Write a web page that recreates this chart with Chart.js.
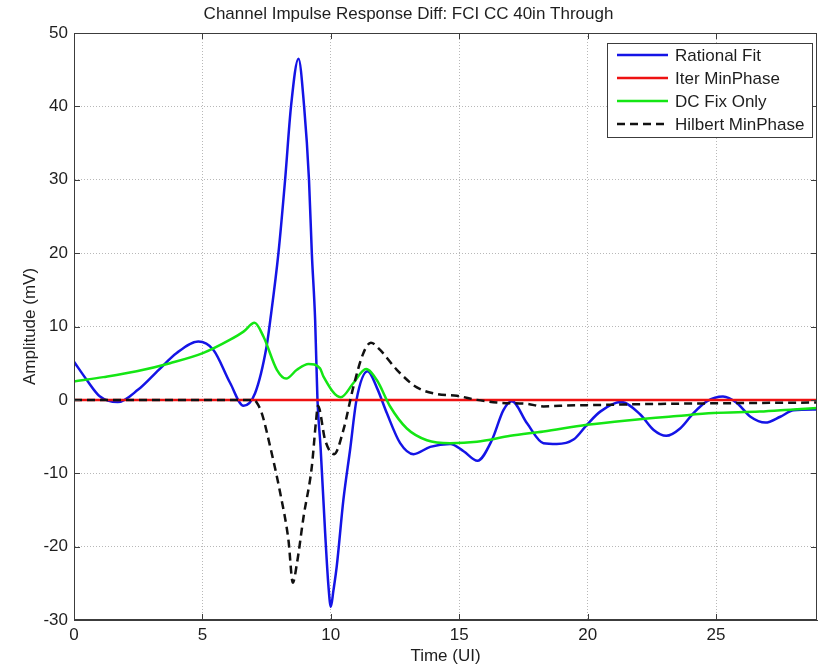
<!DOCTYPE html>
<html><head><meta charset="utf-8">
<script src="https://cdn.jsdelivr.net/npm/chart.js@4"></script>
<style>html,body{margin:0;padding:0;background:#fff}#wrap{width:821px;height:667px}</style>
</head><body><div id="wrap"><canvas id="c" width="821" height="667"></canvas></div>
<script>
const titleText = 'Channel Impulse Response Diff: FCI CC 40in Through';
const xLabel = 'Time (UI)';
const yLabel = 'Amplitude (mV)';
const xTicks = [0, 5, 10, 15, 20, 25];
const yTicks = [-30, -20, -10, 0, 10, 20, 30, 40, 50];
const seriesNames = ['Rational Fit', 'Iter MinPhase', 'DC Fix Only', 'Hilbert MinPhase'];

const rationalX = [0, 0.5, 1.0, 1.7, 2.5, 3.3, 4.0, 4.84, 5.43, 6.08, 6.6, 7.05, 7.5, 7.64, 7.96, 8.22, 8.45, 8.74, 8.96, 9.15, 9.26, 9.39, 9.48, 9.6, 9.78, 9.91, 10.0, 10.1, 10.23, 10.49, 10.75, 11.0, 11.43, 11.8, 12.18, 12.7, 13.22, 13.87, 14.65, 15.17, 15.71, 16.27, 16.72, 17.05, 17.64, 18.28, 18.8, 19.45, 19.97, 20.49, 21.3, 22.05, 22.57, 23.06, 23.6, 24.12, 24.64, 25.27, 25.82, 26.34, 26.92, 27.5, 28.02, 28.93];
const rationalY = [5.2, 2.7, 0.5, -0.3, 1.4, 4.1, 6.4, 7.95, 6.8, 2.3, -0.8, 0.9, 7.3, 10.8, 20, 30, 40, 46.5, 40, 30, 20, 10.8, 0, -6.4, -18.2, -25.5, -28.2, -26, -22.7, -13.6, -6.8, 0, 3.9, 1.6, -1.8, -5.9, -7.4, -6.4, -6.0, -7.0, -8.3, -5.5, -1.4, -0.2, -3.2, -5.9, -6.0, -5.4, -3.4, -1.6, -0.3, -2.0, -4.1, -4.9, -3.9, -1.8, -0.2, 0.45, -0.45, -2.3, -3.1, -2.3, -1.4, -1.3];

const iterX = [0, 28.93];
const iterY = [0, 0];

const dcFixX = [0, 1.14, 2.44, 3.74, 5.04, 6.08, 6.6, 7.03, 7.38, 7.9, 8.26, 8.68, 9.13, 9.58, 9.71, 10.39, 10.88, 11.37, 11.79, 12.31, 12.96, 13.74, 14.65, 15.69, 16.99, 18.28, 19.97, 21.53, 23.48, 24.9, 26.7, 28.0, 28.93];
const dcFixY = [2.5, 3.1, 3.9, 5.0, 6.4, 8.2, 9.3, 10.5, 8.6, 4.1, 2.9, 4.1, 4.9, 4.3, 3.2, 0.36, 2.3, 4.2, 2.7, -0.9, -3.9, -5.5, -5.9, -5.7, -4.9, -4.3, -3.4, -2.8, -2.2, -1.8, -1.6, -1.3, -1.1];

const hilbertX = [0, 7.0, 7.1, 7.31, 7.64, 8.03, 8.35, 8.52, 8.68, 8.94, 9.26, 9.42, 9.5, 9.78, 10.13, 10.49, 10.88, 11.27, 11.56, 11.92, 12.57, 13.35, 14.13, 14.91, 15.69, 16.47, 17.64, 18.28, 18.93, 20.25, 22.8, 25.4, 28.93];
const hilbertY = [0, 0, -0.3, -1.8, -6.4, -12.7, -19.1, -24.9, -22.3, -15.9, -9.1, -3.0, -0.8, -5.5, -7.4, -4.1, 1.8, 6.4, 7.8, 6.8, 4.1, 1.7, 0.8, 0.55, 0, -0.36, -0.55, -0.9, -0.8, -0.7, -0.55, -0.45, -0.36];

const pts = (xs, ys) => xs.map((x, i) => ({x: x, y: ys[i]}));

Chart.defaults.font.family = '"Liberation Sans", Arial, sans-serif';
Chart.defaults.color = '#1e1e1e';

const frameColor = '#3c3c3c';

const framePlugin = {
  id: 'frame',
  afterDatasetsDraw(chart) {
    const {ctx, chartArea: a, scales} = chart;
    ctx.save();
    ctx.strokeStyle = frameColor;
    ctx.lineWidth = 1;
    ctx.setLineDash([]);
    ctx.strokeRect(Math.round(a.left) + 0.5, Math.round(a.top) + 0.5, Math.round(a.right - a.left) - 1, Math.round(a.bottom - a.top) - 1);
    const tl = 6;
    ctx.beginPath();
    xTicks.forEach(v => {
      const px = Math.round(scales.x.getPixelForValue(v)) + 0.5;
      ctx.moveTo(px, a.bottom); ctx.lineTo(px, a.bottom - tl);
      ctx.moveTo(px, a.top); ctx.lineTo(px, a.top + tl);
    });
    yTicks.forEach(v => {
      const py = Math.round(scales.y.getPixelForValue(v)) + 0.5;
      ctx.moveTo(a.left, py); ctx.lineTo(a.left + tl, py);
      ctx.moveTo(a.right, py); ctx.lineTo(a.right - tl, py);
    });
    ctx.stroke();
    ctx.restore();
  }
};

const legendPlugin = {
  id: 'boxLegend',
  afterDraw(chart) {
    const {ctx, chartArea: a} = chart;
    const w = 205, h = 94;
    const x0 = a.right - 210, y0 = a.top + 10;
    ctx.save();
    ctx.fillStyle = '#ffffff';
    ctx.fillRect(x0, y0, w, h);
    ctx.strokeStyle = frameColor;
    ctx.lineWidth = 1;
    ctx.setLineDash([]);
    ctx.strokeRect(x0 + 0.5, y0 + 0.5, w, h);
    ctx.font = '17px "Liberation Sans", Arial, sans-serif';
    ctx.textBaseline = 'middle';
    ctx.textAlign = 'left';
    chart.data.datasets.forEach((ds, i) => {
      const y = y0 + 12 + i * 23;
      ctx.strokeStyle = ds.borderColor;
      ctx.lineWidth = ds.borderWidth;
      ctx.setLineDash(ds.borderDash || []);
      ctx.beginPath();
      ctx.moveTo(x0 + 10, y); ctx.lineTo(x0 + 61, y);
      ctx.stroke();
      ctx.setLineDash([]);
      ctx.fillStyle = '#1e1e1e';
      ctx.fillText(ds.label, x0 + 68, y + 1);
    });
    ctx.restore();
  }
};

new Chart(document.getElementById('c'), {
  type: 'line',
  data: {
    datasets: [
      {label: seriesNames[0], data: pts(rationalX, rationalY), borderColor: '#1414e6', borderWidth: 2.5, order: 4},
      {label: seriesNames[1], data: pts(iterX, iterY), borderColor: '#ee1111', borderWidth: 2.5, order: 3},
      {label: seriesNames[2], data: pts(dcFixX, dcFixY), borderColor: '#14e614', borderWidth: 2.5, order: 2},
      {label: seriesNames[3], data: pts(hilbertX, hilbertY), borderColor: '#111111', borderWidth: 2.5, borderDash: [8, 5], order: 1}
    ]
  },
  options: {
    responsive: false,
    animation: false,
    devicePixelRatio: 1,
    parsing: true,
    elements: {
      point: {radius: 0, hoverRadius: 0},
      line: {cubicInterpolationMode: 'monotone', fill: false}
    },
    layout: {padding: {left: 0, right: 4, top: 0, bottom: 0}},
    plugins: {
      legend: {display: false},
      tooltip: {enabled: false},
      title: {
        display: true, text: titleText, color: '#1e1e1e',
        font: {size: 17, weight: 'normal'},
        padding: {top: 4, bottom: 8.6}
      }
    },
    scales: {
      x: {
        type: 'linear', min: 0, max: 28.93,
        afterBuildTicks: s => { s.ticks = xTicks.map(v => ({value: v})); },
        afterFit: s => { s.height = 47; },
        ticks: {font: {size: 17}, color: '#1e1e1e', padding: 5, maxRotation: 0, autoSkip: false, includeBounds: false},
        grid: {color: '#b8b8b8', lineWidth: 1, drawTicks: false},
        border: {display: true, color: frameColor, dash: [1, 2]},
        title: {display: true, text: xLabel, font: {size: 17}, color: '#1e1e1e', padding: {top: 0, bottom: 0}}
      },
      y: {
        type: 'linear', min: -30, max: 50,
        afterBuildTicks: s => { s.ticks = yTicks.map(v => ({value: v})); },
        afterFit: s => { s.width = 74; },
        ticks: {font: {size: 17}, color: '#1e1e1e', padding: 6, autoSkip: false},
        grid: {color: '#b8b8b8', lineWidth: 1, drawTicks: false},
        border: {display: true, color: frameColor, dash: [1, 2]},
        title: {display: true, text: yLabel, font: {size: 17}, color: '#1e1e1e', padding: {top: 20, bottom: 0}}
      }
    }
  },
  plugins: [framePlugin, legendPlugin]
});
</script>
</body></html>
